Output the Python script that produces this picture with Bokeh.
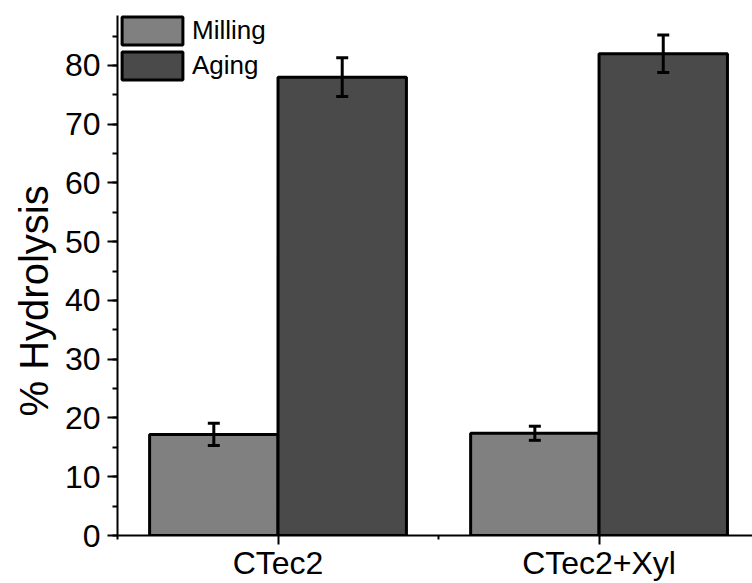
from bokeh.plotting import figure
from bokeh.models import (Range1d, FixedTicker, SingleIntervalTicker, Whisker, TeeHead,
                          ColumnDataSource, Legend, LegendItem, Title)
from bokeh.embed import file_html
from bokeh.resources import INLINE

categories = ["CTec2", "CTec2+Xyl"]
milling = [17.2, 17.4]
milling_err = [1.9, 1.2]
aging = [78.0, 82.0]
aging_err = [3.3, 3.2]
y_title = "% Hydrolysis"

FONT = "Liberation Sans"
pos = [1, 2]
off = 0.2
bw = 0.4

src_m = ColumnDataSource(dict(
    x=[p_ - off for p_ in pos], top=milling,
    upper=[v + e for v, e in zip(milling, milling_err)],
    lower=[v - e for v, e in zip(milling, milling_err)]))
src_a = ColumnDataSource(dict(
    x=[p_ + off for p_ in pos], top=aging,
    upper=[v + e for v, e in zip(aging, aging_err)],
    lower=[v - e for v, e in zip(aging, aging_err)]))

p = figure(width=752, height=583, x_range=Range1d(0.5, 2.478), y_range=Range1d(0, 88.5),
           output_backend="svg", toolbar_location=None,
           min_border_left=117, min_border_right=0, min_border_top=15, min_border_bottom=45)
p.outline_line_color = None
p.xgrid.visible = False
p.ygrid.visible = False

r_m = p.vbar(x="x", top="top", bottom=0, width=bw, source=src_m,
             fill_color="#808080", line_color="black", line_width=3)
r_a = p.vbar(x="x", top="top", bottom=0, width=bw, source=src_a,
             fill_color="#4a4a4a", line_color="black", line_width=3)

for s in (src_m, src_a):
    w = Whisker(source=s, base="x", upper="upper", lower="lower", level="overlay",
                line_color="black", line_width=3,
                upper_head=TeeHead(size=12, line_width=3, line_color="black"),
                lower_head=TeeHead(size=12, line_width=3, line_color="black"))
    p.add_layout(w)

# axes
for ax in (p.xaxis[0], p.yaxis[0]):
    ax.axis_line_width = 2
    ax.axis_line_color = "black"
    ax.major_tick_line_width = 2
    ax.minor_tick_line_width = 2
    ax.major_tick_line_color = "black"
    ax.minor_tick_line_color = "black"
    ax.major_tick_in = 0
    ax.minor_tick_in = 0
    ax.major_label_text_font = FONT
    ax.major_label_text_font_size = "32px"
    ax.major_label_text_color = "black"

p.xaxis.ticker = FixedTicker(ticks=pos, minor_ticks=[0.5, 1.5, 2.5])
p.xaxis.major_label_overrides = {pos[i]: categories[i] for i in range(len(pos))}
p.xaxis.major_tick_out = 9
p.xaxis.minor_tick_out = 4
p.xaxis.major_label_standoff = 0

p.yaxis.ticker = SingleIntervalTicker(interval=10, num_minor_ticks=2)
p.yaxis.major_tick_out = 10
p.yaxis.minor_tick_out = 5
p.yaxis.major_label_standoff = 7

# y axis title as a side title so it can sit slightly below the frame centre
p.add_layout(Title(text=y_title, align="left", offset=119, standoff=12,
                   text_font=FONT, text_font_size="40px", text_font_style="normal",
                   text_color="black"), "left")

legend = Legend(items=[LegendItem(label="Milling", renderers=[r_m]),
                       LegendItem(label="Aging", renderers=[r_a])],
                location=(-3, 452), glyph_width=76, glyph_height=35,
                label_text_font=FONT, label_text_font_size="26px", label_text_color="black",
                background_fill_alpha=0, border_line_color=None,
                padding=0, spacing=0, margin=0, label_standoff=2)
p.add_layout(legend)

open("out.html", "w").write(file_html(p, INLINE))
